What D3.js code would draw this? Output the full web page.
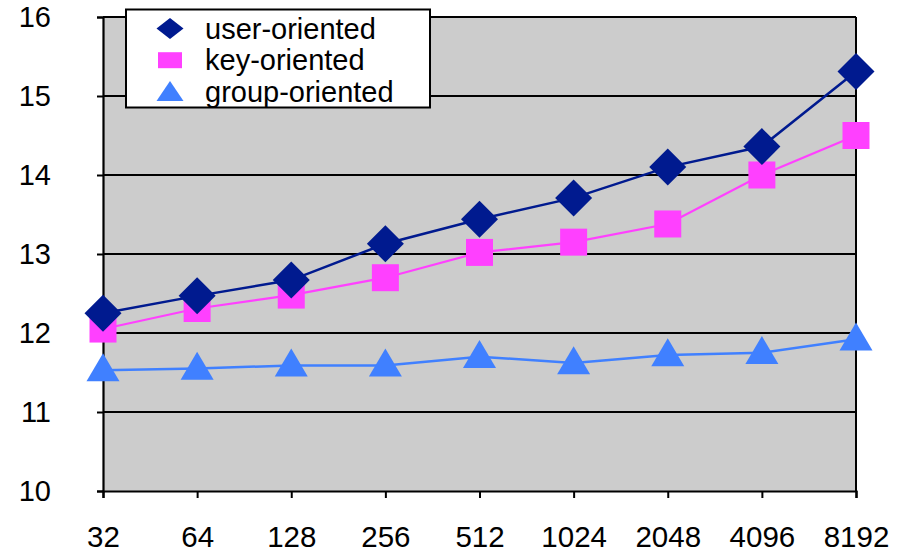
<!DOCTYPE html>
<html>
<head>
<meta charset="utf-8">
<script src="https://cdn.jsdelivr.net/npm/d3@7"></script>
<style>
  html, body { margin: 0; padding: 0; background: #fff; }
  svg { display: block; font-family: "Liberation Sans", Arial, sans-serif; }
</style>
</head>
<body>
<svg id="chart" width="901" height="554"></svg>
<script>
// Category labels (x axis) and y tick values
const categories = ["32", "64", "128", "256", "512", "1024", "2048", "4096", "8192"];
const yTicks = [10, 11, 12, 13, 14, 15, 16];

// Series values
const userOriented  = [12.25, 12.47, 12.67, 13.13, 13.44, 13.71, 14.10, 14.36, 15.31];
const keyOriented   = [12.05, 12.31, 12.48, 12.70, 13.02, 13.15, 13.38, 14.00, 14.50];
const groupOriented = [11.53, 11.55, 11.59, 11.59, 11.70, 11.62, 11.72, 11.75, 11.92];

const series = [
  { name: "user-oriented",  values: userOriented,  color: "#001a8f", shape: "diamond",  width: 2.5 },
  { name: "key-oriented",   values: keyOriented,   color: "#ff40ff", shape: "square",   width: 2.2 },
  { name: "group-oriented", values: groupOriented, color: "#4080ff", shape: "triangle", width: 2.5 }
];

const svg = d3.select("#chart");
const plot = { left: 103, right: 856, top: 17, bottom: 491 };

const x = d3.scalePoint().domain(categories).range([plot.left, plot.right]).padding(0);
const y = d3.scaleLinear().domain([10, 16]).range([plot.bottom, plot.top]);

// Plot background
svg.append("rect")
  .attr("x", plot.left).attr("y", plot.top)
  .attr("width", plot.right - plot.left).attr("height", plot.bottom - plot.top)
  .attr("fill", "#cccccc");

// Horizontal gridlines
svg.append("g").selectAll("line")
  .data(yTicks.filter(d => d > 10))
  .join("line")
  .attr("x1", plot.left).attr("x2", plot.right)
  .attr("y1", d => y(d)).attr("y2", d => y(d))
  .attr("stroke", "#000").attr("stroke-width", 2);

// Right border
svg.append("line")
  .attr("x1", plot.right).attr("x2", plot.right)
  .attr("y1", plot.top).attr("y2", plot.bottom)
  .attr("stroke", "#000").attr("stroke-width", 2);

// Y axis
const yAxis = d3.axisLeft(y).tickValues(yTicks).tickSize(6).tickPadding(46).tickFormat(d3.format("d"));
const gy = svg.append("g").attr("transform", `translate(${plot.left},0)`).call(yAxis);
gy.select(".domain").attr("stroke", "#000").attr("stroke-width", 2.2);
gy.selectAll(".tick line").attr("stroke", "#000").attr("stroke-width", 2);
gy.selectAll(".tick text")
  .attr("font-size", 29).attr("fill", "#000")
  .attr("font-family", "Liberation Sans, Arial, sans-serif");

// X axis
const xAxis = d3.axisBottom(x).tickSize(7).tickPadding(28);
const gx = svg.append("g").attr("transform", `translate(0,${plot.bottom})`).call(xAxis);
gx.select(".domain").attr("stroke", "#000").attr("stroke-width", 2.2);
gx.selectAll(".tick line").attr("stroke", "#000").attr("stroke-width", 2);
gx.selectAll(".tick text")
  .attr("font-size", 29.5).attr("fill", "#000")
  .attr("font-family", "Liberation Sans, Arial, sans-serif");

// Marker path builders (w = width, h = height)
function markerPath(shape, w, h) {
  const hw = w / 2, hh = h / 2;
  if (shape === "diamond") return `M0,${-hh}L${hw},0L0,${hh}L${-hw},0Z`;
  if (shape === "square") return `M${-hw},${-hh}H${hw}V${hh}H${-hw}Z`;
  // triangle: apex above the point, base a little below it
  return `M0,${-h * 0.6}L${hw},${h * 0.4}L${-hw},${h * 0.4}Z`;
}
const markerSize = {
  diamond: [37, 37],
  square: [27, 27],
  triangle: [33, 28]
};

const line = d3.line().x((d, i) => x(categories[i])).y(d => y(d));

// Draw series back to front so the diamonds sit on top
[...series].reverse().forEach(s => {
  const g = svg.append("g");
  g.append("path")
    .datum(s.values)
    .attr("d", line)
    .attr("fill", "none")
    .attr("stroke", s.color)
    .attr("stroke-width", s.width);
  const [w, h] = markerSize[s.shape];
  g.selectAll("path.m")
    .data(s.values)
    .join("path")
    .attr("class", "m")
    .attr("transform", (d, i) => `translate(${x(categories[i])},${y(d)})`)
    .attr("d", markerPath(s.shape, w, h))
    .attr("fill", s.color);
});

// Legend
const legend = svg.append("g");
legend.append("rect")
  .attr("x", 126).attr("y", 9.5)
  .attr("width", 304).attr("height", 98)
  .attr("fill", "#fff").attr("stroke", "#000").attr("stroke-width", 2);

const legendMarker = { diamond: [27, 21], square: [24, 16], triangle: [27, 20] };
series.forEach((s, i) => {
  const cy = 28.5 + i * 31.7;
  const [w, h] = legendMarker[s.shape];
  legend.append("path")
    .attr("transform", `translate(170,${s.shape === "triangle" ? cy + 1 : cy})`)
    .attr("d", markerPath(s.shape, w, h))
    .attr("fill", s.color);
  legend.append("text")
    .attr("x", 205).attr("y", cy)
    .attr("dy", "0.35em")
    .attr("font-size", 29)
    .attr("fill", "#000")
    .text(s.name);
});
</script>
</body>
</html>
